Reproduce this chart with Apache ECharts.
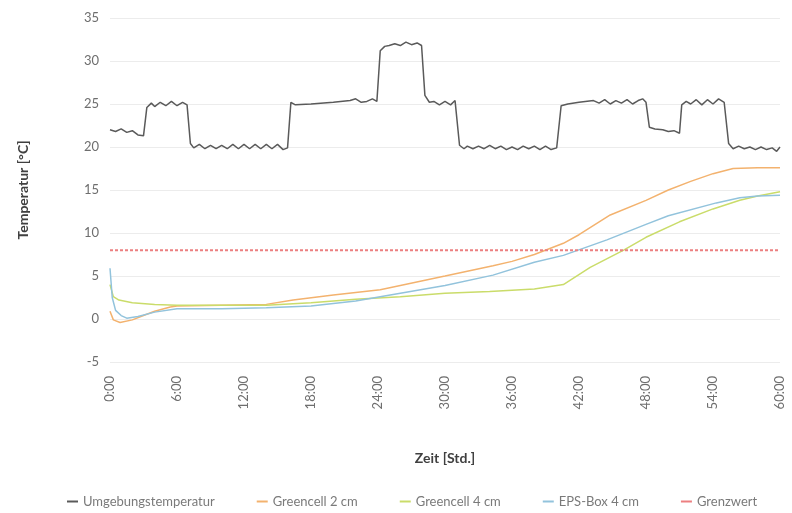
<!DOCTYPE html>
<html>
<head>
<meta charset="utf-8">
<script src="https://cdn.jsdelivr.net/npm/echarts@6/dist/echarts.min.js"></script>
<style>
  html, body { margin: 0; padding: 0; background: #fff; }
  #chart { width: 792px; height: 513px; }
</style>
</head>
<body>
<div id="chart"></div>
<script>
  // [Stunde, °C]
  const ambient = [
    [0, 22.0], [0.5, 21.8], [1, 22.1], [1.5, 21.7], [2, 21.9], [2.5, 21.4], [3.0, 21.3],
    [3.3, 24.6], [3.7, 25.1], [4, 24.7], [4.5, 25.2], [5, 24.8], [5.5, 25.3], [6, 24.8], [6.5, 25.2], [6.9, 24.9],
    [7.2, 20.4], [7.5, 19.9], [8, 20.3], [8.5, 19.8], [9, 20.2], [9.5, 19.8], [10, 20.2], [10.5, 19.8],
    [11, 20.3], [11.5, 19.8], [12, 20.3], [12.5, 19.8], [13, 20.3], [13.5, 19.8], [14, 20.3], [14.5, 19.8],
    [15, 20.3], [15.5, 19.7], [15.9, 19.9],
    [16.2, 25.2], [16.6, 24.9], [18, 25.0], [20, 25.2], [21.5, 25.4], [22, 25.6], [22.5, 25.2], [23, 25.3], [23.5, 25.6], [23.9, 25.3],
    [24.2, 31.2], [24.6, 31.7], [25, 31.8], [25.5, 32.0], [26, 31.8], [26.5, 32.2], [27, 31.9], [27.5, 32.1], [27.9, 31.8],
    [28.2, 26.0], [28.6, 25.2], [29, 25.3], [29.5, 24.9], [30, 25.3], [30.5, 24.9], [30.9, 25.4],
    [31.3, 20.2], [31.7, 19.8], [32, 20.1], [32.5, 19.8], [33, 20.1], [33.5, 19.8], [34, 20.2], [34.5, 19.8],
    [35, 20.1], [35.5, 19.7], [36, 20.0], [36.5, 19.7], [37, 20.1], [37.5, 19.8], [38, 20.1], [38.5, 19.7],
    [39, 20.1], [39.5, 19.7], [40, 19.9],
    [40.4, 24.8], [41, 25.0], [42, 25.2], [43.3, 25.4], [43.8, 25.1], [44.3, 25.5], [44.8, 25.0], [45.3, 25.4],
    [45.8, 25.1], [46.3, 25.5], [46.8, 25.0], [47.3, 25.4], [47.7, 25.6], [48.0, 25.2],
    [48.3, 22.3], [48.8, 22.1], [49.5, 22.0], [50, 21.8], [50.5, 21.9], [51.0, 21.6],
    [51.2, 24.9], [51.6, 25.3], [52, 25.0], [52.5, 25.5], [53, 24.9], [53.5, 25.5], [54, 25.0], [54.5, 25.6], [55.0, 25.2],
    [55.4, 20.4], [55.8, 19.8], [56.3, 20.1], [56.8, 19.8], [57.3, 20.0], [57.8, 19.7], [58.3, 20.0], [58.8, 19.7],
    [59.3, 19.9], [59.7, 19.5], [60, 20.0]
  ]

  const greencell2 = [
    [0, 0.9], [0.3, -0.1], [0.9, -0.4], [2, -0.1], [3, 0.4], [4, 0.9], [5.4, 1.4], [6, 1.5], [10, 1.6], [14, 1.7],
    [16.4, 2.2], [20, 2.8], [24.2, 3.4], [26, 3.9], [30, 5.0], [34.3, 6.2], [36, 6.7], [38, 7.5], [40.6, 8.8],
    [42, 9.8], [44.8, 12.1], [48, 13.8], [50, 15.0], [52, 16.0], [54, 16.9], [55.8, 17.5], [58, 17.6], [60, 17.6]
  ]

  const greencell4 = [
    [0, 4.0], [0.3, 2.6], [0.8, 2.2], [2, 1.9], [4, 1.7], [6, 1.6], [10, 1.6], [14, 1.6], [18, 1.9], [22, 2.3],
    [26, 2.6], [30, 3.0], [34, 3.2], [38, 3.5], [40.6, 4.0], [43, 6.0], [46, 8.0], [48, 9.5], [51, 11.3],
    [54, 12.8], [56.4, 13.8], [58, 14.3], [60, 14.8]
  ]

  const epsBox4 = [
    [0, 5.9], [0.2, 2.5], [0.5, 1.0], [1, 0.4], [1.5, 0.1], [2.5, 0.3], [4, 0.8], [6, 1.2], [10, 1.2], [14, 1.3],
    [18, 1.5], [22, 2.1], [26, 3.0], [30, 3.9], [34.3, 5.1], [38, 6.6], [40.6, 7.4], [44.5, 9.2], [48, 11.0],
    [50, 12.0], [54.3, 13.5], [56.4, 14.1], [58, 14.3], [60, 14.4]
  ]

  const grenzwert = [[0, 8], [60, 8]]

  const seriesNames = ['Umgebungstemperatur', 'Greencell 2 cm', 'Greencell 4 cm', 'EPS-Box 4 cm', 'Grenzwert']
  const colors = ['#5a5a5a', '#f3b26e', '#cadc6a', '#92c3dc', '#ec7f80']

  const fontFamily = 'Lato, "Open Sans", sans-serif'
  const chart = echarts.init(document.getElementById('chart'))

  function line(name, data, color, dashed) {
    return {
      name: name,
      type: 'line',
      data: data,
      showSymbol: false,
      symbol: 'none',
      animation: false,
      lineStyle: { color: color, width: dashed ? 2 : 1.5, type: dashed ? [3, 2] : 'solid' },
      itemStyle: { color: color }
    }
  }

  chart.setOption({
    textStyle: { fontFamily: fontFamily },
    grid: { left: 110, right: 12, top: 18, bottom: 151 },
    legend: {
      bottom: 0,
      left: 62,
      icon: 'rect',
      itemWidth: 11,
      itemHeight: 2,
      itemGap: 42,
      textStyle: { color: '#7a7a7a', fontSize: 13, fontFamily: fontFamily },
      data: seriesNames
    },
    xAxis: {
      type: 'value',
      min: 0,
      max: 60,
      interval: 6,
      name: 'Zeit [Std.]',
      nameLocation: 'middle',
      nameGap: 89,
      nameTextStyle: { color: '#404040', fontSize: 14, fontWeight: 'bold' },
      axisLine: { show: false },
      axisTick: { show: false },
      splitLine: { show: false },
      axisLabel: {
        rotate: 90,
        color: '#6e6e6e',
        fontSize: 13,
        margin: 14,
        formatter: function (v) { return v + ':00' }
      }
    },
    yAxis: {
      type: 'value',
      min: -5,
      max: 35,
      interval: 5,
      name: 'Temperatur [°C]',
      nameLocation: 'middle',
      nameGap: 80,
      nameTextStyle: { color: '#404040', fontSize: 14, fontWeight: 'bold' },
      axisLine: { show: false },
      axisTick: { show: false },
      axisLabel: { color: '#6e6e6e', fontSize: 13, margin: 11 },
      splitLine: { lineStyle: { color: '#ececec', width: 1 } }
    },
    series: [
      line(seriesNames[0], ambient, colors[0], false),
      line(seriesNames[1], greencell2, colors[1], false),
      line(seriesNames[2], greencell4, colors[2], false),
      line(seriesNames[3], epsBox4, colors[3], false),
      line(seriesNames[4], grenzwert, colors[4], true)
    ]
  })
</script>
</body>
</html>
